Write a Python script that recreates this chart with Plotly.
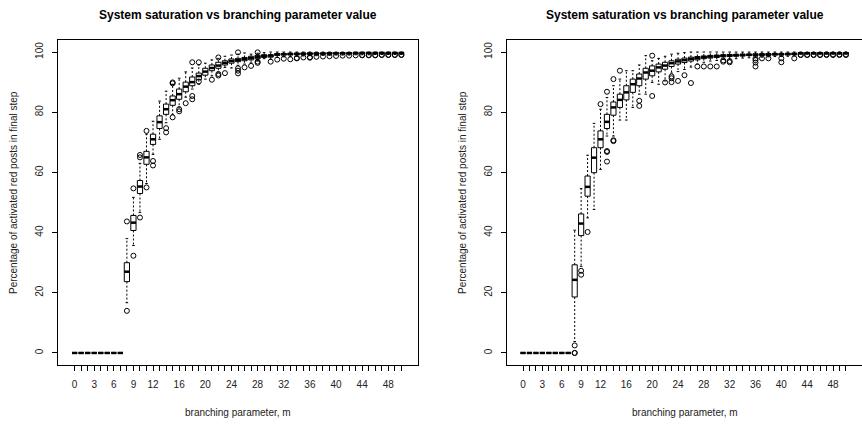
import plotly.graph_objects as go

# Branching parameter values (one box per value of m)
m_values = list(range(51))
labelled_m = [0, 3, 6, 9, 12, 16, 20, 24, 28, 32, 36, 40, 44, 48]
y_ticks = [0, 20, 40, 60, 80, 100]

# ---- Batch A: box statistics per m (percent of activated red posts) ----
a_q1 = [0, 0, 0, 0, 0, 0, 0, 0, 23.7, 40.7, 53.0, 62.7, 69.3, 74.6, 79.3, 82.3, 84.3,
        86.8, 88.8, 90.8, 92.3, 93.8, 94.6, 95.7, 96.3, 96.8, 97.1, 97.4, 97.8, 98.2,
        98.3, 98.9, 99.0, 99.1, 99.1, 99.2, 99.2, 99.3, 99.3, 99.3, 99.4, 99.4, 99.4,
        99.4, 99.5, 99.5, 99.5, 99.5, 99.5, 99.5, 99.5]
a_med = [0, 0, 0, 0, 0, 0, 0, 0, 27.0, 43.3, 55.3, 65.0, 71.0, 76.7, 81.0, 84.0, 86.0,
         88.5, 90.0, 92.0, 93.5, 94.7, 95.5, 96.4, 97.0, 97.3, 97.7, 98.0, 98.4, 98.7,
         98.8, 99.2, 99.3, 99.3, 99.4, 99.4, 99.5, 99.5, 99.5, 99.6, 99.6, 99.6, 99.6,
         99.7, 99.7, 99.7, 99.7, 99.7, 99.7, 99.7, 99.7]
a_q3 = [0, 0, 0, 0, 0, 0, 0, 0, 30.0, 45.7, 57.3, 67.0, 72.7, 78.8, 82.7, 85.4, 87.7,
        90.0, 91.7, 93.0, 94.6, 95.7, 96.6, 97.1, 97.7, 97.9, 98.2, 98.6, 98.9, 99.1,
        99.1, 99.5, 99.5, 99.6, 99.6, 99.7, 99.7, 99.7, 99.7, 99.8, 99.8, 99.8, 99.8,
        99.8, 99.8, 99.8, 99.8, 99.8, 99.8, 99.8, 99.8]
a_lo = [0, 0, 0, 0, 0, 0, 0, 0, 16.7, 35.7, 46.7, 56.3, 66.0, 71.0, 76.5, 79.3, 81.7,
        85.0, 87.7, 89.3, 91.0, 92.1, 93.3, 94.9, 94.7, 95.6, 96.0, 96.4, 97.0, 97.8,
        97.6, 98.2, 98.4, 98.5, 98.6, 98.7, 98.8, 98.8, 98.9, 98.9, 99.0, 99.0, 99.0,
        99.1, 99.1, 99.1, 99.2, 99.2, 99.2, 99.2, 99.2]
a_hi = [0, 0, 0, 0, 0, 0, 0, 0, 38.0, 51.7, 63.0, 72.7, 77.0, 83.7, 87.0, 89.3, 91.3,
        93.4, 94.7, 95.7, 96.3, 97.4, 97.9, 98.6, 99.0, 99.3, 99.7, 99.3, 99.6, 99.8,
        100, 100, 100, 100, 100, 100, 100, 100, 100, 100, 100, 100, 100,
        100, 100, 100, 100, 100, 100, 100, 100]
a_out = [[], [], [], [], [], [], [], [],
         [43.7, 14.0], [54.7, 32.3], [65.0, 65.8, 45.0], [73.8, 55.0], [63.8, 62.3],
         [], [74.7, 73.3], [89.9, 89.6, 78.3], [81.0, 80.3], [83.0], [96.6, 85.4, 84.3],
         [96.6, 90.2], [], [90.8], [98.2, 92.7, 92.2], [93.0], [],
         [99.9, 94.6, 93.8, 92.9], [94.9], [95.4], [99.9, 96.8, 96.4], [], [96.8],
         [97.5], [97.8], [97.6], [97.9, 98.0], [98.2], [98.3, 98.1], [98.4], [98.5],
         [98.6], [98.7], [98.8], [98.8], [98.9], [99.0, 98.9], [99.0, 98.9],
         [99.0, 98.9], [99.1, 99.0], [99.1, 99.0], [99.1, 99.0], [99.1, 99.0]]

# ---- Batch B ----
b_q1 = [0, 0, 0, 0, 0, 0, 0, 0, 18.6, 39.0, 52.1, 59.9, 68.2, 74.6, 79.0, 81.6, 84.1,
        86.6, 88.8, 91.0, 92.1, 93.4, 94.3, 95.2, 96.0, 96.5, 97.0, 97.4, 97.8, 98.0,
        98.2, 98.4, 98.5, 98.6, 98.7, 98.8, 98.8, 98.9, 98.9, 99.0, 99.0, 99.1, 99.1,
        99.5, 99.5, 99.5, 99.5, 99.5, 99.5, 99.5, 99.5]
b_med = [0, 0, 0, 0, 0, 0, 0, 0, 24.3, 43.0, 55.2, 64.9, 71.0, 76.8, 81.6, 84.1, 86.6,
         89.3, 91.2, 93.2, 93.8, 94.9, 95.5, 96.3, 96.9, 97.3, 97.7, 98.0, 98.3, 98.5,
         98.6, 98.8, 98.9, 99.0, 99.0, 99.1, 99.1, 99.2, 99.2, 99.3, 99.3, 99.3, 99.4,
         99.6, 99.6, 99.6, 99.6, 99.6, 99.6, 99.6, 99.6]
b_q3 = [0, 0, 0, 0, 0, 0, 0, 0, 29.3, 46.2, 58.8, 68.2, 73.8, 79.3, 83.4, 86.0, 88.8,
        91.0, 92.7, 94.6, 95.4, 96.0, 96.6, 97.1, 97.6, 98.0, 98.3, 98.5, 98.7, 98.9,
        99.0, 99.1, 99.2, 99.2, 99.3, 99.3, 99.4, 99.4, 99.5, 99.5, 99.5, 99.6, 99.6,
        99.8, 99.8, 99.8, 99.8, 99.8, 99.8, 99.8, 99.8]
b_lo = [0, 0, 0, 0, 0, 0, 0, 0, 3.8, 28.8, 44.9, 47.7, 61.0, 72.1, 72.1, 77.4, 77.4,
        81.6, 86.0, 86.0, 89.9, 89.3, 90.4, 93.0, 93.5, 94.2, 95.0, 96.0, 96.6, 97.0,
        97.2, 97.5, 97.6, 97.8, 98.0, 98.1, 98.2, 98.3, 98.4, 98.5, 98.5, 98.6, 98.7,
        99.3, 99.3, 99.3, 99.3, 99.3, 99.3, 99.3, 99.3]
b_hi = [0, 0, 0, 0, 0, 0, 0, 0, 40.8, 54.6, 65.7, 76.3, 81.0, 84.9, 88.8, 91.0, 93.8,
        93.8, 95.7, 98.8, 97.1, 97.9, 98.6, 99.3, 99.6, 99.8, 100, 100, 100, 100,
        100, 100, 100, 100, 100, 100, 100, 100, 100, 100, 100, 100, 100,
        100, 100, 100, 100, 100, 100, 100, 100]
b_out = [[], [], [], [], [], [], [], [],
         [2.5, 0.0, 0.0], [27.3, 26.0], [40.2], [], [82.7], [86.8, 67.1, 66.8, 63.6],
         [91.0, 70.4, 70.7], [93.8], [], [], [83.8, 82.1], [], [98.8, 85.4], [],
         [89.9], [91.9, 91.3, 90.0], [90.4], [92.3], [89.7], [95.2], [95.2], [95.2],
         [95.2], [96.8, 97.2], [96.6, 97.0], [], [], [], [97.9, 97.3, 96.5, 95.2],
         [97.9], [97.9], [], [97.9, 96.6], [], [97.9], [99.1, 99.0], [99.1, 99.0],
         [99.1, 99.0], [99.1, 99.0], [99.2, 99.0], [99.2, 99.0], [99.2, 99.0],
         [99.2, 99.0]]

TITLE = "System saturation vs branching parameter value"
X_TITLE = "branching parameter, m"
Y_TITLE = "Percentage of activated red posts in final step"

BOX_HALF = 0.4      # half box width, in category units
STAPLE_HALF = 0.2   # half whisker-cap width
FONT = "Liberation Sans, Arial, Helvetica, sans-serif"


def panel_traces(q1, med, q3, lo, hi, outliers, xa, ya):
    """R-style boxplot drawn from per-category summary statistics."""
    bx, by, mx, my, wx, wy, sx, sy, ox, oy = ([] for _ in range(10))
    for m, a, md, b, l, h, outs in zip(m_values, q1, med, q3, lo, hi, outliers):
        bx += [m - BOX_HALF, m + BOX_HALF, m + BOX_HALF, m - BOX_HALF, m - BOX_HALF, None]
        by += [a, a, b, b, a, None]
        mx += [m - BOX_HALF, m + BOX_HALF, None]
        my += [md, md, None]
        wx += [m, m, None, m, m, None]
        wy += [b, h, None, a, l, None]
        sx += [m - STAPLE_HALF, m + STAPLE_HALF, None, m - STAPLE_HALF, m + STAPLE_HALF, None]
        sy += [h, h, None, l, l, None]
        for v in outs:
            ox.append(m)
            oy.append(v)
    common = dict(xaxis=xa, yaxis=ya, showlegend=False, hoverinfo="skip")
    return [
        go.Scatter(x=wx, y=wy, mode="lines",
                   line=dict(color="black", width=1, dash="2px,2px"), **common),
        go.Scatter(x=sx, y=sy, mode="lines", line=dict(color="black", width=1), **common),
        go.Scatter(x=bx, y=by, mode="lines", line=dict(color="black", width=1), **common),
        go.Scatter(x=mx, y=my, mode="lines", line=dict(color="black", width=2.5), **common),
        go.Scatter(x=ox, y=oy, mode="markers",
                   marker=dict(symbol="circle-open", size=5, color="black",
                               line=dict(width=1, color="black")), **common),
    ]


fig = go.Figure()
for t in panel_traces(a_q1, a_med, a_q3, a_lo, a_hi, a_out, "x", "y"):
    fig.add_trace(t)
for t in panel_traces(b_q1, b_med, b_q3, b_lo, b_hi, b_out, "x2", "y2"):
    fig.add_trace(t)

W, H = 862, 424
x_ticktext = [str(m) if m in labelled_m else "" for m in m_values]

xaxis_common = dict(
    tickmode="array", tickvals=m_values, ticktext=x_ticktext,
    ticks="outside", ticklen=5, tickwidth=1, tickcolor="black",
    showline=True, linecolor="black", linewidth=1, mirror=True,
    showgrid=False, zeroline=False, ticklabelstandoff=5,
    tickfont=dict(family=FONT, size=10, color="#222"),
)
yaxis_common = dict(
    tickmode="array", tickvals=y_ticks, tickangle=-90,
    ticks="outside", ticklen=5, tickwidth=1, tickcolor="black",
    showline=True, linecolor="black", linewidth=1,
    showgrid=False, zeroline=False, range=[-4, 104], ticklabelstandoff=5,
    tickfont=dict(family=FONT, size=10, color="#222"),
)

y_dom = [(H - 365) / H, (H - 40) / H]
fig.update_layout(
    width=W, height=H,
    margin=dict(l=0, r=0, t=0, b=0),
    paper_bgcolor="white", plot_bgcolor="white",
    xaxis=dict(domain=[58 / W, 418 / W], range=[-2.54, 52.54], anchor="y", **xaxis_common),
    yaxis=dict(domain=y_dom, anchor="x", mirror=True, **yaxis_common),
    xaxis2=dict(domain=[507 / W, 1.0], range=[-2.48, 52.49], anchor="y2", **xaxis_common),
    yaxis2=dict(domain=y_dom, anchor="x2", mirror=False, **yaxis_common),
)

annotations = []
for x_left, x_right, y_label_x in [(58, 418, 13), (507, 862, 462)]:
    centre = (x_left + x_right) / 2
    annotations.append(dict(text="<b>" + TITLE + "</b>", x=centre / W, y=(H - 15) / H,
                            xref="paper", yref="paper", showarrow=False,
                            xanchor="center", yanchor="middle",
                            font=dict(family=FONT, size=12, color="black")))
    annotations.append(dict(text=X_TITLE, x=centre / W, y=(H - 412) / H,
                            xref="paper", yref="paper", showarrow=False,
                            xanchor="center", yanchor="middle",
                            font=dict(family=FONT, size=10, color="#222")))
    annotations.append(dict(text=Y_TITLE, x=y_label_x / W, y=(H - 193) / H,
                            xref="paper", yref="paper", showarrow=False, textangle=-90,
                            xanchor="center", yanchor="middle",
                            font=dict(family=FONT, size=10, color="#222")))
fig.update_layout(annotations=annotations)

fig.write_html("out.html")
